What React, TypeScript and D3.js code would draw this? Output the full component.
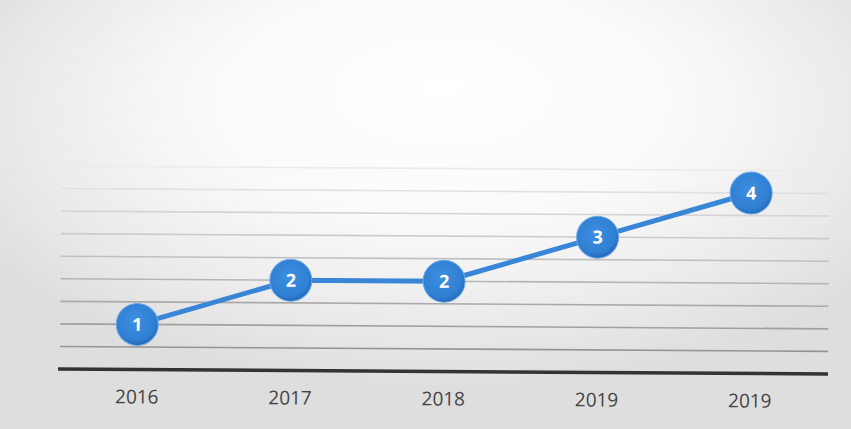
import React from "react";
import * as d3 from "d3";

const categories = ["2016", "2017", "2018", "2019", "2019"];
const values = [1, 2, 2, 3, 4];
const gridValues = [0.5, 1, 1.5, 2, 2.5, 3, 3.5, 4, 4.5];

const W = 851;
const H = 429;

export default function App() {
  const x = d3
    .scalePoint<number>()
    .domain(d3.range(categories.length))
    .range([137, 750]);
  const y = d3.scaleLinear().domain([0, 4.5]).range([369, 166]);
  const idx = d3.range(values.length);
  const line = d3
    .line<number>()
    .x((i) => x(i)!)
    .y((i) => y(values[i]));

  const gridColor = (v: number) => {
    const t = v / 4.5;
    return d3.interpolateRgb("#8a8a8a", "#ebebeb")(t);
  };

  return (
    <svg
      width={W}
      height={H}
      style={{ position: "absolute", left: 0, top: 0, display: "block" }}
    >
      <defs>
        <radialGradient id="bg" cx="0.52" cy="0.28" r="0.62" fx="0.52" fy="0.2">
          <stop offset="0" stopColor="#ffffff" />
          <stop offset="0.45" stopColor="#fafafa" />
          <stop offset="0.8" stopColor="#eaeaea" />
          <stop offset="1" stopColor="#dedede" />
        </radialGradient>
        <radialGradient id="dot" cx="0.45" cy="0.4" r="0.6">
          <stop offset="0" stopColor="#3d8fe0" />
          <stop offset="0.8" stopColor="#2f7fd3" />
          <stop offset="1" stopColor="#2568b8" />
        </radialGradient>
      </defs>
      <rect x={0} y={0} width={W} height={H} fill="url(#bg)" />
      <g transform="rotate(0.37 60 367)">
        {gridValues.map((v) => (
          <line
            key={v}
            x1={60}
            x2={828}
            y1={y(v)}
            y2={y(v)}
            stroke={gridColor(v)}
            strokeWidth={1.6}
          />
        ))}
        <line x1={58} x2={828} y1={y(0)} y2={y(0)} stroke="#333" strokeWidth={3.5} />
        <path d={line(idx) || ""} fill="none" stroke="#3a86d6" strokeWidth={5} strokeLinejoin="round" />
        {idx.map((i) => (
          <g key={i} transform={`translate(${x(i)},${y(values[i])})`}>
            <circle r={21} fill="url(#dot)" stroke="#6aa8e8" strokeWidth={1} />
            <text
              textAnchor="middle"
              dy="0.36em"
              fill="#ffffff"
              fontFamily="'Open Sans', sans-serif"
              fontWeight={700}
              fontSize={18}
            >
              {values[i]}
            </text>
          </g>
        ))}
        {categories.map((c, i) => (
          <text
            key={i}
            x={x(i)}
            y={y(0) + 34}
            textAnchor="middle"
            fill="#444"
            fontFamily="'Open Sans', sans-serif"
            fontSize={19}
          >
            {c}
          </text>
        ))}
      </g>
    </svg>
  );
}
